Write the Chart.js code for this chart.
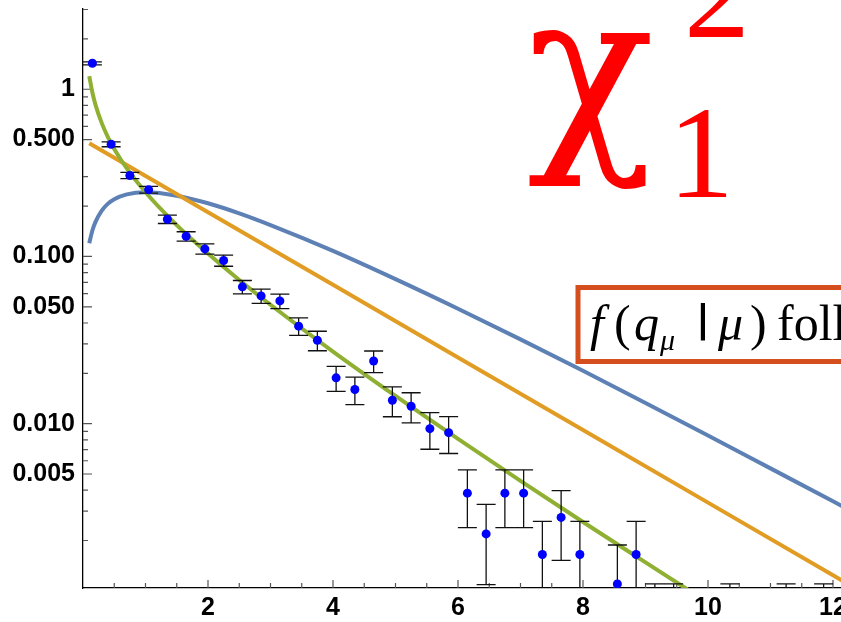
<!DOCTYPE html>
<html>
<head>
<meta charset="utf-8">
<script src="https://cdn.jsdelivr.net/npm/chart.js@4"></script>
<style>
  html, body { margin: 0; padding: 0; background: #fff; overflow: hidden; }
  #wrap { position: relative; width: 900px; height: 622px; }
</style>
</head>
<body>
<div id="wrap"><canvas id="chart1"></canvas></div>
<script>
// histogram of q (bin centres), density and its error
var binCenters = [0.15, 0.45, 0.75, 1.05, 1.35, 1.65, 1.95, 2.25, 2.55, 2.85, 3.15, 3.45, 3.75, 4.05, 4.35, 4.65, 4.95, 5.25, 5.55, 5.85, 6.15, 6.45, 6.75, 7.05, 7.35, 7.65, 7.95, 8.55, 8.85, 9.15, 9.45, 10.35, 11.25, 11.85]
var binValues = [1.43, 0.469, 0.305, 0.251, 0.167, 0.132, 0.111, 0.0946, 0.0658, 0.0581, 0.0542, 0.0383, 0.0315, 0.0188, 0.016, 0.0237, 0.0138, 0.0127, 0.00933, 0.00883, 0.00384, 0.00219, 0.00384, 0.00384, 0.00165, 0.00275, 0.00165, 0.0011, 0.00165, 0.00055, 0.00055, 0.00055, 0.00055, 0.00055]
var binErrors = [0.03, 0.0161, 0.013, 0.0117, 0.0096, 0.0085, 0.0078, 0.0072, 0.006, 0.0057, 0.0054, 0.0046, 0.0042, 0.0032, 0.003, 0.0035, 0.0028, 0.0026, 0.0023, 0.0022, 0.00145, 0.0011, 0.00145, 0.00145, 0.00095, 0.00123, 0.00095, 0.00078, 0.00095, 0.00055, 0.00055, 0.00055, 0.00055, 0.00055]

// curves
var greenX = [0.1, 0.15, 0.2, 0.3, 0.4, 0.5, 0.7, 1, 1.5, 2, 2.5, 3, 4, 5, 6, 7, 8, 9, 10]
var greenY = [1.2, 0.956, 0.807, 0.627, 0.516, 0.439, 0.336, 0.242, 0.154, 0.104, 0.0723, 0.0514, 0.027, 0.01465, 0.00811, 0.00455, 0.00258, 0.00148, 0.00085]
var orangeX = [0.1, 2, 4, 6, 8, 10, 12, 13]
var orangeY = [0.476, 0.184, 0.0677, 0.0249, 0.00916, 0.00337, 0.00124, 0.00075]
var blueX = [0.1, 0.15, 0.2, 0.3, 0.4, 0.5, 0.7, 1, 1.5, 2, 2.5, 3, 4, 5, 6, 7, 8, 9, 10, 11, 12, 13]
var blueY = [0.12, 0.143, 0.161, 0.188, 0.207, 0.22, 0.235, 0.242, 0.231, 0.208, 0.181, 0.154, 0.108, 0.0732, 0.0487, 0.0319, 0.0207, 0.0133, 0.0085, 0.0054, 0.00343, 0.00216]

// ticks
var xTickValues = [2, 4, 6, 8, 10, 12]
var xMinorTicks = [0.5, 1, 1.5, 2.5, 3, 3.5, 4.5, 5, 5.5, 6.5, 7, 7.5, 8.5, 9, 9.5, 10.5, 11, 11.5, 12.5]
var yTickValues = [1, 0.5, 0.1, 0.05, 0.01, 0.005]
var yTickLabels = ['1', '0.500', '0.100', '0.050', '0.010', '0.005']
var yMinorTicks = [3, 2, 0.9, 0.8, 0.7, 0.6, 0.3, 0.2, 0.09, 0.08, 0.07, 0.06, 0.04, 0.03, 0.02, 0.009, 0.008, 0.007, 0.006, 0.004, 0.003, 0.002]

function pts(xs, ys) {
  return xs.map(function (x, i) { return { x: x, y: ys[i] } })
}

var tickFont = { family: 'Liberation Sans', weight: 'bold', size: 25 }

var errorBars = {
  id: 'errorBars',
  beforeDatasetDraw: function (chart, args) {
    if (args.index !== 3) return
    var ctx = chart.ctx, x = chart.scales.x, y = chart.scales.y, area = chart.chartArea
    ctx.save()
    ctx.beginPath()
    ctx.rect(area.left, area.top, area.right - area.left, area.bottom - area.top)
    ctx.clip()
    ctx.strokeStyle = '#111'
    ctx.lineWidth = 1.3
    binCenters.forEach(function (c, i) {
      var px = x.getPixelForValue(c)
      var hi = y.getPixelForValue(binValues[i] + binErrors[i])
      var lowVal = binValues[i] - binErrors[i]
      var lo = lowVal > 0 ? y.getPixelForValue(lowVal) : area.bottom + 10
      ctx.beginPath()
      ctx.moveTo(px, hi); ctx.lineTo(px, lo)
      ctx.moveTo(px - 9.5, hi); ctx.lineTo(px + 9.5, hi)
      ctx.moveTo(px - 9.5, lo); ctx.lineTo(px + 9.5, lo)
      ctx.stroke()
    })
    ctx.restore()
  }
}

var insideTicks = {
  id: 'insideTicks',
  beforeDatasetsDraw: function (chart) {
    var ctx = chart.ctx, x = chart.scales.x, y = chart.scales.y, area = chart.chartArea
    ctx.save()
    ctx.strokeStyle = '#555'
    ctx.lineWidth = 1.2
    ctx.beginPath()
    xTickValues.forEach(function (v) {
      var p = x.getPixelForValue(v)
      ctx.moveTo(p, area.bottom); ctx.lineTo(p, area.bottom - 8)
    })
    xMinorTicks.forEach(function (v) {
      var p = x.getPixelForValue(v)
      ctx.moveTo(p, area.bottom); ctx.lineTo(p, area.bottom - 5)
    })
    yTickValues.forEach(function (v) {
      var p = y.getPixelForValue(v)
      ctx.moveTo(area.left, p); ctx.lineTo(area.left + 9, p)
    })
    yMinorTicks.forEach(function (v) {
      var p = y.getPixelForValue(v)
      ctx.moveTo(area.left, p); ctx.lineTo(area.left + 5, p)
    })
    ctx.stroke()
    ctx.restore()
  }
}

var annotations = {
  id: 'annotations',
  afterDraw: function (chart) {
    var ctx = chart.ctx
    ctx.save()
    // chi-square label
    ctx.fillStyle = '#ff0000'
    ctx.textBaseline = 'alphabetic'
    ctx.font = '210px "DejaVu Serif"'
    ctx.fillText('\u03c7', 527, 142)
    ctx.font = '132px "Liberation Serif"'
    ctx.fillText('1', 668, 197)
    ctx.fillText('2', 684, 37)

    // boxed formula
    ctx.fillStyle = '#fff'
    ctx.fillRect(578, 287.5, 400, 74)
    ctx.strokeStyle = '#d44e1e'
    ctx.lineWidth = 5
    ctx.strokeRect(578, 287.5, 400, 74)
    ctx.fillStyle = '#000'
    var base = 340
    ctx.font = 'italic 50px "Liberation Serif"'
    ctx.fillText('f', 590, base)
    ctx.font = '50px "Liberation Serif"'
    ctx.fillText('(', 614, base)
    ctx.font = 'italic 50px "Liberation Serif"'
    ctx.fillText('q', 634, base)
    ctx.font = 'italic 30px "Liberation Serif"'
    ctx.fillText('\u03bc', 660, base + 10)
    ctx.font = 'bold 38px "DejaVu Sans"'
    ctx.fillText('|', 696, 331)
    ctx.font = 'italic 50px "Liberation Serif"'
    ctx.fillText('\u03bc', 718, base)
    ctx.font = '50px "Liberation Serif"'
    ctx.fillText(')', 750, base)
    ctx.fillText('follows', 777, base)
    ctx.restore()
  }
}

var chart1 = new Chart(document.getElementById('chart1').getContext('2d'), {
  type: 'scatter',
  data: {
    datasets: [
      {
        type: 'line', data: pts(blueX, blueY), borderColor: '#5e81b5', borderWidth: 4,
        pointRadius: 0, cubicInterpolationMode: 'monotone', order: 4,
      },
      {
        type: 'line', data: pts(orangeX, orangeY), borderColor: '#e19c24', borderWidth: 4,
        pointRadius: 0, order: 3,
      },
      {
        type: 'line', data: pts(greenX, greenY), borderColor: '#8fb032', borderWidth: 4,
        pointRadius: 0, cubicInterpolationMode: 'monotone', order: 2,
      },
      {
        data: pts(binCenters, binValues), backgroundColor: '#0000ff', borderWidth: 0,
        pointRadius: 4.5, order: 1,
      },
    ],
  },
  options: {
    responsive: true,
    maintainAspectRatio: false,
    animation: false,
    devicePixelRatio: 1,
    layout: { padding: { top: 9, right: 0, left: 0, bottom: 0 } },
    plugins: { legend: { display: false }, tooltip: { enabled: false } },
    scales: {
      x: {
        type: 'linear', min: 0, max: 13,
        grid: { display: false, drawTicks: false },
        border: { display: true, color: '#000', width: 1.3 },
        ticks: {
          font: tickFont, color: '#000', padding: 5, maxRotation: 0, autoSkip: false,
          callback: function (v) { return String(v) },
        },
        afterBuildTicks: function (s) { s.ticks = xTickValues.map(function (v) { return { value: v } }) },
        afterFit: function (s) { s.height = 34; s.paddingLeft = 0; s.paddingRight = 0 },
      },
      y: {
        type: 'logarithmic', min: 0.00104, max: 3.02,
        grid: { display: false, drawTicks: false },
        border: { display: true, color: '#000', width: 1.3 },
        ticks: {
          font: tickFont, color: '#000', padding: 8, autoSkip: false,
          callback: function (v) {
            var i = yTickValues.indexOf(v)
            return i >= 0 ? yTickLabels[i] : ''
          },
        },
        afterBuildTicks: function (s) { s.ticks = yTickValues.map(function (v) { return { value: v } }) },
        afterFit: function (s) { s.width = 83; s.paddingTop = 0; s.paddingBottom = 0 },
      },
    },
  },
  plugins: [insideTicks, errorBars, annotations],
})
</script>
</body>
</html>
